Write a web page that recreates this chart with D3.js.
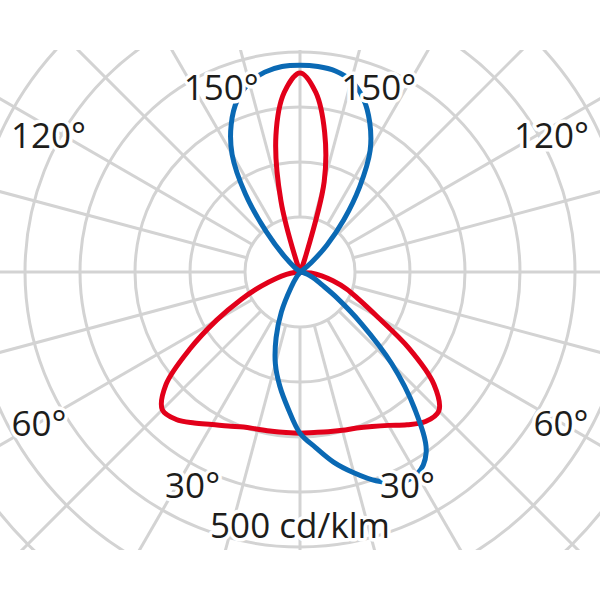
<!DOCTYPE html>
<html><head><meta charset="utf-8">
<script src="https://cdn.jsdelivr.net/npm/d3@7"></script>
<style>html,body{margin:0;padding:0;background:#fff;} svg{display:block}</style>
</head><body>
<svg id="chart" width="600" height="600"></svg>
<script>
// Gamma angles (degrees from nadir), 0..180 step 5
const angles = d3.range(0, 181, 5);
// Intensity in cd/klm, right half / left half of each plane
const redRight  = [293,293,295,298,302,310,322,339,355,357,318,242,162,118,90,62,40,20,0,0,0,0,0,0,0,0,0,0,0,0,0,5,27,170,258,328,362];
const redLeft   = [293,293,294,296,300,309,320,335,350,354,318,245,175,118,75,45,25,10,0,0,0,0,0,0,0,0,0,0,0,0,0,0,9,134,252,328,362];
const blueRight = [293,320,351,378,404,422,425,400,324,236,145,82,45,30,18,10,5,2,0,0,0,0,0,0,0,5,27,69,124,189,255,300,336,360,371,375,376];
const blueLeft  = [293,249,211,173,127,80,33,9,0,0,0,0,0,0,0,0,0,0,0,0,0,0,0,0,0,0,11,40,95,173,247,296,333,356,369,375,376];
const ringValues = [100,200,300,400,500,600,700];
const spokeAngles = d3.range(0, 360, 15);
const angleLabels = [30, 60, 120, 150];
const unitLabel = "500 cd/klm";

const cx = 300, cy = 272;
const r = d3.scaleLinear().domain([0, 100]).range([0, 55]);
const svg = d3.select("#chart");
svg.append("defs").append("clipPath").attr("id", "clip")
  .append("rect").attr("x", 0).attr("y", 50).attr("width", 600).attr("height", 500);

const gridG = svg.append("g").attr("clip-path", "url(#clip)")
  .append("g").attr("transform", `translate(${cx},${cy})`);
const gridColor = "#d3d3d3";
gridG.selectAll("circle.ring").data(ringValues).join("circle")
  .attr("class", "ring").attr("r", d => r(d))
  .attr("fill", "none").attr("stroke", gridColor).attr("stroke-width", 3);
gridG.selectAll("line.spoke").data(spokeAngles).join("line")
  .attr("class", "spoke")
  .attr("x1", d => r(100) * Math.sin(d * Math.PI / 180))
  .attr("y1", d => r(100) * Math.cos(d * Math.PI / 180))
  .attr("x2", d => r(800) * Math.sin(d * Math.PI / 180))
  .attr("y2", d => r(800) * Math.cos(d * Math.PI / 180))
  .attr("stroke", gridColor).attr("stroke-width", 3);

const plot = svg.append("g").attr("transform", `translate(${cx},${cy})`);
function loop(right, left) {
  const pts = [];
  angles.forEach((t, i) => pts.push({a: Math.PI - t * Math.PI / 180, v: right[i]}));
  for (let i = angles.length - 2; i >= 1; i--) pts.push({a: Math.PI + angles[i] * Math.PI / 180, v: left[i]});
  // drop consecutive zero points (all at the origin)
  return pts.filter((p, i) => !(p.v === 0 && pts[(i - 1 + pts.length) % pts.length].v === 0));
}
const line = d3.lineRadial().angle(d => d.a).radius(d => r(d.v))
  .curve(d3.curveCatmullRomClosed.alpha(0.5));
plot.append("path").attr("d", line(loop(redRight, redLeft)))
  .attr("fill", "none").attr("stroke", "#e2001a").attr("stroke-width", 5).attr("stroke-linejoin", "round");
plot.append("path").attr("d", line(loop(blueRight, blueLeft)))
  .attr("fill", "none").attr("stroke", "#0a69b4").attr("stroke-width", 5).attr("stroke-linejoin", "round");

// labels
const place = {30: [239, 26.7], 60: [302, 59.8], 120: [286, 118.4], 150: [200, 156.8]};
const labels = [];
angleLabels.forEach(a => { labels.push({t: a + "°", a: a, s: 1}); labels.push({t: a + "°", a: a, s: -1}); });
const txtG = svg.append("g").attr("transform", `translate(${cx},${cy})`)
  .attr("font-family", "'Open Sans', 'Noto Sans', sans-serif").attr("font-size", 35)
  .attr("fill", "#1d1d1b").attr("text-anchor", "middle");
txtG.selectAll("text.ang").data(labels).join("text").attr("class", "ang")
  .attr("x", d => d.s * place[d.a][0] * Math.sin(place[d.a][1] * Math.PI / 180))
  .attr("y", d => place[d.a][0] * Math.cos(place[d.a][1] * Math.PI / 180) + 12)
  .attr("stroke", "#fff").attr("stroke-width", 7).attr("stroke-linejoin", "round")
  .attr("paint-order", "stroke")
  .text(d => d.t);
txtG.append("text").attr("x", 0).attr("y", 266)
  .attr("stroke", "#fff").attr("stroke-width", 7).attr("stroke-linejoin", "round")
  .attr("paint-order", "stroke").text(unitLabel);
</script>
</body></html>
